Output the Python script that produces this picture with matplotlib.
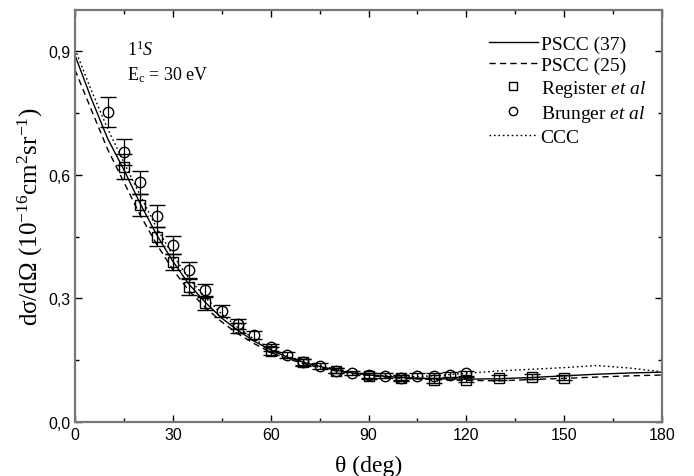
import matplotlib
matplotlib.use("Agg")
import matplotlib.pyplot as plt
from matplotlib.ticker import MultipleLocator, FuncFormatter
from matplotlib.lines import Line2D

# ---- data ----
theta_curve = [0, 5, 10, 15, 20, 25, 30, 35, 40, 45, 50, 55, 60, 65, 70, 75, 80, 85, 90,
               100, 110, 120, 130, 140, 150, 160, 170, 180]
pscc37 = [0.890, 0.785, 0.688, 0.612, 0.530, 0.455, 0.390, 0.334, 0.290, 0.252, 0.222, 0.196,
          0.175, 0.158, 0.145, 0.135, 0.126, 0.119, 0.114, 0.108, 0.105, 0.104, 0.105, 0.108,
          0.112, 0.116, 0.119, 0.121]
pscc25 = [0.855, 0.758, 0.662, 0.582, 0.502, 0.432, 0.370, 0.318, 0.278, 0.243, 0.214, 0.190,
          0.169, 0.154, 0.142, 0.132, 0.124, 0.118, 0.113, 0.106, 0.103, 0.101, 0.100, 0.103,
          0.106, 0.109, 0.112, 0.114]
ccc = [0.905, 0.805, 0.712, 0.630, 0.550, 0.472, 0.405, 0.348, 0.302, 0.262, 0.229, 0.201,
       0.178, 0.160, 0.147, 0.137, 0.128, 0.121, 0.115, 0.109, 0.112, 0.118, 0.124, 0.128,
       0.132, 0.137, 0.131, 0.122]

reg_theta = [15, 20, 25, 30, 35, 40, 50, 60, 70, 80, 90, 100, 110, 120, 130, 140, 150]
reg_val = [0.620, 0.527, 0.450, 0.388, 0.328, 0.290, 0.228, 0.173, 0.145, 0.125, 0.112, 0.106,
           0.101, 0.103, 0.107, 0.110, 0.108]
reg_err = [0.030, 0.026, 0.023, 0.020, 0.019, 0.017, 0.013, 0.010, 0.008, 0.007, 0.007, 0.007,
           0.007, 0.007, 0.006, 0.006, 0.006]

bru_theta = [10, 15, 20, 25, 30, 35, 40, 45, 50, 55, 60, 65, 70, 75, 80, 85, 90, 95, 100,
             105, 110, 115, 120]
bru_val = [0.752, 0.656, 0.582, 0.500, 0.429, 0.369, 0.320, 0.270, 0.238, 0.211, 0.181, 0.163,
           0.145, 0.135, 0.125, 0.119, 0.114, 0.112, 0.108, 0.112, 0.112, 0.115, 0.118]
bru_err = [0.036, 0.032, 0.028, 0.026, 0.022, 0.019, 0.016, 0.014, 0.012, 0.010, 0.009, 0.008,
           0.007, 0.007, 0.006, 0.006, 0.006, 0.006, 0.006, 0.006, 0.006, 0.006, 0.006]

x_ticks = [0, 30, 60, 90, 120, 150, 180]
y_ticks = [0.0, 0.3, 0.6, 0.9]

# ---- style ----
plt.rcParams['mathtext.fontset'] = 'custom'
plt.rcParams['mathtext.rm'] = 'Liberation Serif'
plt.rcParams['mathtext.it'] = 'Liberation Serif:italic'
plt.rcParams['font.family'] = ['Liberation Sans', 'DejaVu Sans']

fig = plt.figure(figsize=(6.94, 4.77), dpi=100)
ax = fig.add_axes([75/694, 1-423/477, 587/694, 412/477])

dash = (0, (4.5, 3))
dot = (0, (1.2, 2))
ax.plot(theta_curve, pscc37, color='black', lw=1.0, ls='-')
ax.plot(theta_curve, pscc25, color='black', lw=1.0, ls=dash)
ax.errorbar(reg_theta, reg_val, yerr=reg_err, fmt='s', ms=6.5, mfc='none', mec='black',
            mew=1.0, ecolor='black', elinewidth=0.9, capsize=6, capthick=0.9)
ax.errorbar(bru_theta, bru_val, yerr=bru_err, fmt='o', ms=7.5, mfc='none', mec='black',
            mew=1.0, ecolor='black', elinewidth=0.9, capsize=6, capthick=0.9)
ax.plot(theta_curve, ccc, color='black', lw=1.0, ls=dot)

ax.set_xlim(0, 180)
ax.set_ylim(0, 1.0)
ax.set_xticks(x_ticks)
ax.set_yticks(y_ticks)
ax.xaxis.set_minor_locator(MultipleLocator(15))
ax.yaxis.set_minor_locator(MultipleLocator(0.15))
ax.yaxis.set_major_formatter(FuncFormatter(lambda v, p: f"{v:.1f}".replace('.', ',')))
ax.tick_params(which='both', direction='in', top=True, right=True, color='black',
               labelsize=11.5)
ax.tick_params(which='major', length=5, width=1.0)
ax.tick_params(which='minor', length=3, width=1.0)
for s in ax.spines.values():
    s.set_color('#777777')
    s.set_linewidth(1.6)

ax.set_xlabel('θ (deg)', family='Liberation Serif', fontsize=17, labelpad=9)
ax.set_ylabel('dσ/dΩ (10$^{-16}$cm$^{2}$sr$^{-1}$)', family='Liberation Serif',
              fontsize=18, labelpad=2)

ax.text(16.0, 0.905, '1$^{1}$$\\it{S}$', family='Liberation Serif', fontsize=13,
        va='center', ha='left')
ax.text(16.0, 0.845, 'E$_{\\mathrm{c}}$ = 30 eV', family='Liberation Serif', fontsize=13,
        va='center', ha='left')

handles = [
    Line2D([], [], color='black', lw=1.0, ls='-'),
    Line2D([], [], color='black', lw=1.0, ls=dash),
    Line2D([], [], ls='none', marker='s', ms=6, mfc='none', mec='black', mew=1.0),
    Line2D([], [], ls='none', marker='o', ms=6, mfc='none', mec='black', mew=1.0),
    Line2D([], [], color='black', lw=1.0, ls=dot),
]
labels = ['PSCC (37)', 'PSCC (25)', 'Register $\\it{et\\ al}$', 'Brunger $\\it{et\\ al}$', 'CCC']
leg = ax.legend(handles, labels, loc='upper left', bbox_to_anchor=(489/694, 1-36/477),
                bbox_transform=fig.transFigure, frameon=False,
                prop={'family': 'Liberation Serif', 'size': 14},
                handlelength=2.5, handletextpad=0.15, labelspacing=0.2,
                borderpad=0, borderaxespad=0)

fig.savefig('out.png', dpi=100)
